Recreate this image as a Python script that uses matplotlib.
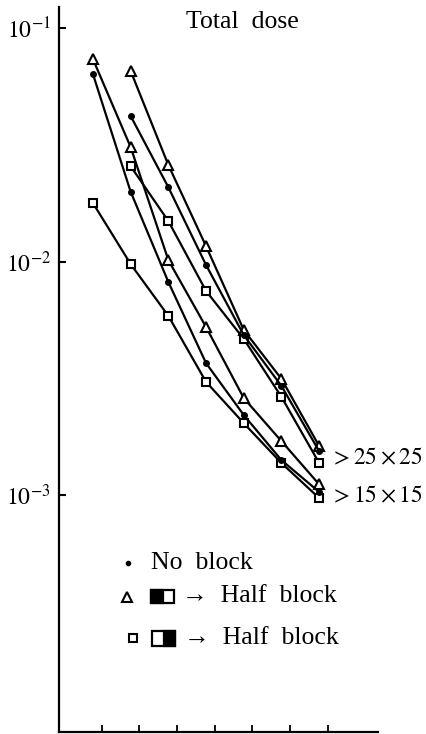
import numpy as np
import matplotlib.pyplot as plt
from matplotlib.patches import Rectangle
from matplotlib.ticker import NullLocator

plt.rcParams['font.family'] = ['Liberation Serif', 'DejaVu Serif']
plt.rcParams['mathtext.fontset'] = 'stix'

# depth positions (arbitrary units, no tick labels in original)
x_15 = [1, 2, 3, 4, 5, 6, 7]
x_25 = [2, 3, 4, 5, 6, 7]
x_ticks = [1.23, 2.23, 3.23, 4.23, 5.23, 6.23, 7.23]

# field 25x25
dot_25 = [0.0420, 0.0208, 0.00966, 0.00484, 0.00293, 0.00154]
tri_25 = [0.0655, 0.0259, 0.01163, 0.00509, 0.00314, 0.00162]
sq_25 = [0.0256, 0.0149, 0.00748, 0.00466, 0.00263, 0.00137]

# field 15x15
dot_15 = [0.0635, 0.0199, 0.00817, 0.00367, 0.00220, 0.00141, 0.00103]
tri_15 = [0.0736, 0.0309, 0.01014, 0.00524, 0.00260, 0.00170, 0.00111]
sq_15 = [0.0178, 0.00975, 0.00585, 0.00305, 0.00203, 0.00137, 0.00097]

W, H = 426, 734
fig = plt.figure(figsize=(W / 100, H / 100), dpi=100)

# axes box in pixels (left, top, right, bottom)
ax_l, ax_t, ax_r, ax_b = 59, 7, 378, 732
ax = fig.add_axes([ax_l / W, 1 - ax_b / H, (ax_r - ax_l) / W, (ax_b - ax_t) / H])


def fx(px):
    return px / W


def fy(py):
    return 1 - py / H


lw = 1.6
for xs, ys in [(x_25, tri_25), (x_15, tri_15)]:
    ax.plot(xs, ys, color='black', lw=lw, marker='^', ms=7,
            mfc='white', mec='black', mew=1.5)
for xs, ys in [(x_25, sq_25), (x_15, sq_15)]:
    ax.plot(xs, ys, color='black', lw=lw, marker='s', ms=5.5,
            mfc='white', mec='black', mew=1.5)
for xs, ys in [(x_25, dot_25), (x_15, dot_15)]:
    ax.plot(xs, ys, color='black', lw=lw, marker='o', ms=4,
            mfc='black', mec='black')

ax.set_yscale('log')
ax.set_ylim(10 ** -4.015, 10 ** -0.91)
ax.set_xlim(0.1, 8.56)

ax.spines['top'].set_visible(False)
ax.spines['right'].set_visible(False)
ax.spines['left'].set_linewidth(1.6)
ax.spines['bottom'].set_linewidth(1.6)

ax.set_yticks([1e-1, 1e-2, 1e-3])
ax.set_yticklabels([r'$10^{-1}$', r'$10^{-2}$', r'$10^{-3}$'])
ax.yaxis.set_minor_locator(NullLocator())
ax.tick_params(axis='y', direction='in', length=5, width=1.5, labelsize=17, pad=6)

ax.set_xticks(x_ticks)
ax.set_xticklabels([])
ax.tick_params(axis='x', direction='in', length=5, width=1.3)

# titles / labels
fig.text(fx(186), fy(22), 'Total  dose', fontsize=18.5, va='center', ha='left')
fig.text(fx(330), fy(459), r'$>25\times25$', fontsize=17, va='center', ha='left')
fig.text(fx(330), fy(497), r'$>15\times15$', fontsize=17, va='center', ha='left')

# legend
ax.plot([fx(128)], [fy(563)], transform=fig.transFigure, marker='o', ms=3,
        color='black', clip_on=False)
ax.plot([fx(127)], [fy(597)], transform=fig.transFigure, marker='^', ms=6.5,
        mfc='white', mec='black', mew=1.5, clip_on=False)
ax.plot([fx(133)], [fy(638)], transform=fig.transFigure, marker='s', ms=6,
        mfc='white', mec='black', mew=1.5, clip_on=False)

fig.text(fx(151), fy(563), 'No  block', fontsize=18.5, va='center', ha='left')
fig.text(fx(182), fy(596), '→  Half  block', fontsize=18.5, va='center', ha='left')
fig.text(fx(184), fy(638), '→  Half  block', fontsize=18.5, va='center', ha='left')

# half-block icons
bw, bh = 23 / W, 13 / H
fig.patches.append(Rectangle((fx(151), fy(603)), bw, bh, transform=fig.transFigure,
                             facecolor='white', edgecolor='black', lw=1.6))
fig.patches.append(Rectangle((fx(151), fy(603)), bw / 2, bh, transform=fig.transFigure,
                             facecolor='black', edgecolor='black', lw=1.6))
fig.patches.append(Rectangle((fx(152), fy(646)), bw, bh * 1.15, transform=fig.transFigure,
                             facecolor='white', edgecolor='black', lw=1.6))
fig.patches.append(Rectangle((fx(152) + bw / 2, fy(646)), bw / 2, bh * 1.15,
                             transform=fig.transFigure,
                             facecolor='black', edgecolor='black', lw=1.6))

fig.savefig('out.png', dpi=100)
